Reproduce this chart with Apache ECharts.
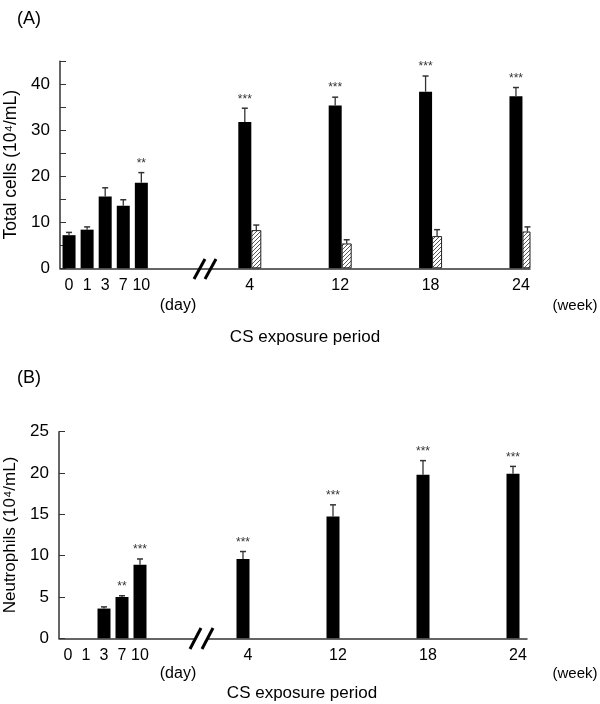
<!DOCTYPE html>
<html>
<head>
<meta charset="utf-8">
<script src="https://cdn.jsdelivr.net/npm/echarts@6/dist/echarts.min.js"></script>
<style>
html, body { margin: 0; padding: 0; background: #fff; }
#main { width: 600px; height: 704px; }
</style>
</head>
<body>
<div id="main"></div>
<script>
// 数据
var dayLabels = ['0', '1', '3', '7', '10'];
var weekLabels = ['4', '12', '18', '24'];

// (A) Total cells
var totalDay = [7.2, 8.4, 15.6, 13.6, 18.6];
var totalDayErr = [0.6, 0.6, 1.9, 1.3, 2.2];
var totalDayStars = ['', '', '', '', '**'];
var totalWeekCS = [31.8, 35.4, 38.4, 37.4];
var totalWeekCSErr = [3.0, 1.8, 3.4, 1.9];
var totalWeekCSStars = ['***', '***', '***', '***'];
var totalWeekAir = [8.3, 5.4, 7.0, 8.0];
var totalWeekAirErr = [1.1, 0.8, 1.4, 1.0];

// (B) Neutrophils
var neutroDay = [null, null, 3.6, 5.0, 8.9];
var neutroDayErr = [0, 0, 0.2, 0.15, 0.7];
var neutroDayStars = ['', '', '', '**', '***'];
var neutroWeek = [9.6, 14.75, 19.8, 19.9];
var neutroWeekErr = [0.9, 1.4, 1.7, 0.9];
var neutroWeekStars = ['***', '***', '***', '***'];

var FONT = 'Liberation Sans';

// 类别槽位：天在前，断开后每周一组
var nSlots = 26;
var dayIdx = [0, 1, 2, 3, 4];
var weekIdx = [10, 15, 20, 25];
var cats = [];
for (var i = 0; i < nSlots; i++) cats.push('');
dayLabels.forEach(function (l, i) { cats[dayIdx[i]] = l; });
weekLabels.forEach(function (l, i) { cats[weekIdx[i]] = l; });

function slotData(idx, vals) {
	var arr = [];
	for (var i = 0; i < nSlots; i++) arr.push(null);
	idx.forEach(function (k, i) { arr[k] = vals[i]; });
	return arr;
}

// 斜线填充
function hatch() {
	var c = document.createElement('canvas');
	c.width = 4; c.height = 4;
	var ctx = c.getContext('2d');
	ctx.fillStyle = '#fff';
	ctx.fillRect(0, 0, 4, 4);
	ctx.strokeStyle = '#444';
	ctx.lineWidth = 0.9;
	ctx.beginPath();
	ctx.moveTo(0, 4); ctx.lineTo(4, 0);
	ctx.moveTo(-1, 1); ctx.lineTo(1, -1);
	ctx.moveTo(3, 5); ctx.lineTo(5, 3);
	ctx.stroke();
	return c;
}
var hatchColor = { image: hatch(), repeat: 'repeat' };

function errSeries(xi, yi, idx, vals, errs, stars, dx) {
	var data = [];
	idx.forEach(function (k, i) {
		if (vals[i] != null) data.push([k, vals[i], errs[i], i]);
	});
	return {
		type: 'custom',
		xAxisIndex: xi,
		yAxisIndex: yi,
		z: 5,
		silent: true,
		data: data,
		renderItem: function (params, api) {
			var k = api.value(0), v = api.value(1), e = api.value(2);
			var base = api.coord([k, v]);
			var top = api.coord([k, v + e]);
			var x = base[0] + dx;
			var children = [];
			if (e > 0) {
				children.push({ type: 'line', shape: { x1: x, y1: base[1], x2: x, y2: top[1] }, style: { stroke: '#333', lineWidth: 1.3 } });
				children.push({ type: 'line', shape: { x1: x - 3, y1: top[1], x2: x + 3, y2: top[1] }, style: { stroke: '#333', lineWidth: 1.5 } });
			}
			var s = stars ? stars[api.value(3)] : '';
			if (s) {
				children.push({ type: 'text', x: x, y: top[1] - 9, style: { text: s, fill: '#333', fontSize: 12, fontFamily: FONT, align: 'center', verticalAlign: 'middle' } });
			}
			return { type: 'group', children: children };
		}
	};
}

function xAxes(gi) {
	return [{
		type: 'category', gridIndex: gi, data: cats,
		axisLine: { lineStyle: { color: '#333', width: 1.5 } },
		axisTick: { show: false },
		axisLabel: { interval: 0, color: '#000', fontSize: 16, fontFamily: FONT, margin: 9 }
	}, {
		type: 'category', gridIndex: gi, data: cats, show: false
	}];
}

function yAxis(gi, max, name, fs, fmt) {
	return {
		type: 'value', gridIndex: gi, min: 0, max: max, interval: 5,
		name: name, nameLocation: 'middle', nameGap: 39,
		nameTextStyle: { color: '#000', fontSize: fs, fontFamily: FONT },
		axisLine: { show: true, lineStyle: { color: '#333', width: 1.5 } },
		axisTick: { show: true, inside: true, length: 6, lineStyle: { color: '#333' } },
		axisLabel: { color: '#000', fontSize: 17, fontFamily: FONT, margin: 10, formatter: fmt },
		splitLine: { show: false }
	};
}

function label(text, x, y, fs) {
	return { type: 'text', x: x, y: y, style: { text: text, fontSize: fs, fontFamily: FONT, fill: '#000', align: 'center', verticalAlign: 'middle' } };
}

var option = {
	animation: false,
	backgroundColor: '#fff',
	grid: [
		{ left: 60, top: 61.3, width: 470, height: 207, outerBoundsMode: 'none', containLabel: false },
		{ left: 59, top: 431.7, width: 468, height: 206.6, outerBoundsMode: 'none', containLabel: false }
	],
	xAxis: xAxes(0).concat(xAxes(1)),
	yAxis: [
		yAxis(0, 45, 'Total cells (10⁴/mL)', 17.5, function (v) { return v % 10 === 0 ? v : ''; }),
		yAxis(1, 25, 'Neutrophils (10⁴/mL)', 17, function (v) { return v; })
	],
	series: [
		// (A)
		{ type: 'bar', xAxisIndex: 0, yAxisIndex: 0, barWidth: 13, data: slotData(dayIdx, totalDay), itemStyle: { color: '#000' } },
		{ type: 'bar', xAxisIndex: 1, yAxisIndex: 0, barWidth: 13, barGap: '0%', data: slotData(weekIdx, totalWeekCS), itemStyle: { color: '#000' } },
		{ type: 'bar', xAxisIndex: 1, yAxisIndex: 0, barWidth: 10, barGap: '0%', data: slotData(weekIdx, totalWeekAir), itemStyle: { color: hatchColor, borderColor: '#222', borderWidth: 1 } },
		errSeries(0, 0, dayIdx, totalDay, totalDayErr, totalDayStars, 0),
		errSeries(1, 0, weekIdx, totalWeekCS, totalWeekCSErr, totalWeekCSStars, -5),
		errSeries(1, 0, weekIdx, totalWeekAir, totalWeekAirErr, null, 6.5),
		// (B)
		{ type: 'bar', xAxisIndex: 2, yAxisIndex: 1, barWidth: 13, data: slotData(dayIdx, neutroDay), itemStyle: { color: '#000' } },
		{ type: 'bar', xAxisIndex: 3, yAxisIndex: 1, barWidth: 13, barGap: '0%', data: slotData(weekIdx, neutroWeek), itemStyle: { color: '#000' } },
		{ type: 'bar', xAxisIndex: 3, yAxisIndex: 1, barWidth: 10, barGap: '0%', data: slotData(weekIdx, []), itemStyle: { color: hatchColor } },
		errSeries(2, 1, dayIdx, neutroDay, neutroDayErr, neutroDayStars, 0),
		errSeries(3, 1, weekIdx, neutroWeek, neutroWeekErr, neutroWeekStars, -5)
	],
	graphic: [
		label('(A)', 29, 19, 18),
		label('(B)', 29, 378, 18),
		label('(day)', 178, 306, 16),
		label('(week)', 575, 306, 15),
		label('CS exposure period', 305, 337, 17),
		label('(day)', 178, 674, 16),
		label('(week)', 575, 674, 15),
		label('CS exposure period', 302, 693, 17),
		// 断轴标记
		{ type: 'line', z: 10, shape: { x1: 194, y1: 279, x2: 205, y2: 259 }, style: { stroke: '#000', lineWidth: 3 } },
		{ type: 'line', z: 10, shape: { x1: 205, y1: 279, x2: 216, y2: 259 }, style: { stroke: '#000', lineWidth: 3 } },
		{ type: 'rect', z: 9, shape: { x: 195, y: 636, width: 12, height: 5 }, style: { fill: '#fff' } },
		{ type: 'line', z: 10, shape: { x1: 190, y1: 649, x2: 201, y2: 628 }, style: { stroke: '#000', lineWidth: 3 } },
		{ type: 'line', z: 10, shape: { x1: 202, y1: 649, x2: 213, y2: 628 }, style: { stroke: '#000', lineWidth: 3 } }
	]
};

var chart = echarts.init(document.getElementById('main'));
chart.setOption(option);
</script>
</body>
</html>
